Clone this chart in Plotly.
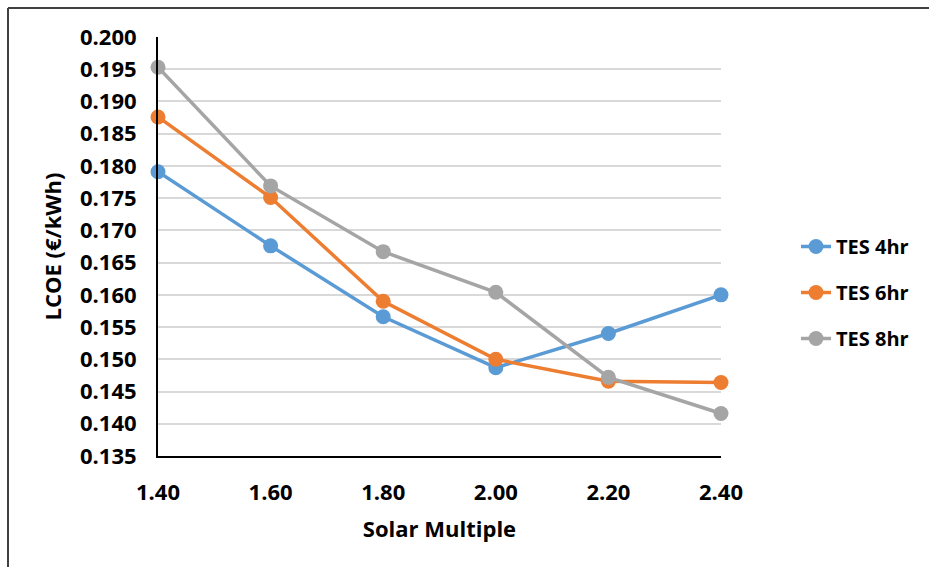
import plotly.graph_objects as go

# Solar multiple values on the x axis
solar_multiple = [1.40, 1.60, 1.80, 2.00, 2.20, 2.40]

# LCOE (EUR/kWh) for each thermal storage size
lcoe_tes4 = [0.1791, 0.1676, 0.1566, 0.1487, 0.1540, 0.1600]
lcoe_tes6 = [0.1876, 0.1751, 0.1590, 0.1500, 0.1466, 0.1464]
lcoe_tes8 = [0.1953, 0.1769, 0.1667, 0.1604, 0.1472, 0.1416]

series_names = ["TES 4hr", "TES 6hr", "TES 8hr"]
series_colors = ["#5B9BD5", "#ED7D31", "#A5A5A5"]

y_ticks = [0.135 + 0.005 * i for i in range(14)]
x_ticks = solar_multiple

FONT = "Open Sans"

fig = go.Figure()
for name, vals, color in zip(series_names, [lcoe_tes4, lcoe_tes6, lcoe_tes8], series_colors):
    fig.add_trace(go.Scatter(
        x=solar_multiple, y=vals, name=name, mode="lines+markers",
        line=dict(color=color, width=3.5),
        marker=dict(color=color, size=15),
        cliponaxis=False, legendgroup=name,
    ))

W, H = 929, 567
L, R, T, B = 158, 208, 37, 111
pw, ph = W - L - R, H - T - B

def px_x(p):
    return (p - L) / pw

def px_y(p):
    return 1 - (p - T) / ph

fig.update_layout(
    width=W, height=H,
    margin=dict(l=L, r=R, t=T, b=B),
    paper_bgcolor="white", plot_bgcolor="white",
    font=dict(family=FONT, size=22, color="#000000", weight="bold"),
    showlegend=True,
    legend=dict(
        x=px_x(796), y=px_y(227), xanchor="left", yanchor="top",
        font=dict(family=FONT, size=20, color="#000000", weight="bold"),
        tracegroupgap=17, traceorder="grouped",
        borderwidth=0,
        bgcolor="rgba(0,0,0,0)",
    ),
    xaxis=dict(
        range=[1.40, 2.40], tickvals=x_ticks,
        ticktext=[f"{v:.2f}" for v in x_ticks],
        showgrid=False, zeroline=False,
        showline=True, linecolor="#000000", linewidth=2,
        ticks="", ticklabelstandoff=16,
        title=dict(text="Solar Multiple", standoff=16,
                   font=dict(family=FONT, size=22, weight="bold")),
    ),
    yaxis=dict(
        range=[0.135, 0.200], tickvals=y_ticks,
        ticktext=[f"{v:.3f}" for v in y_ticks],
        showgrid=True, gridcolor="#D9D9D9", gridwidth=1.5,
        zeroline=False,
        showline=True, linecolor="#000000", linewidth=2,
        ticks="", ticklabelstandoff=15,
        title=dict(text="LCOE (€/kWh)", standoff=12,
                   font=dict(family=FONT, size=22, weight="bold")),
    ),
    shapes=[
        dict(type="line", xref="paper", yref="paper",
             x0=px_x(8), x1=px_x(W + 20), y0=px_y(8), y1=px_y(8),
             line=dict(color="#404040", width=2)),
        dict(type="line", xref="paper", yref="paper",
             x0=px_x(8), x1=px_x(8), y0=px_y(8), y1=px_y(H + 20),
             line=dict(color="#404040", width=2)),
    ],
)

fig.write_html("out.html")
